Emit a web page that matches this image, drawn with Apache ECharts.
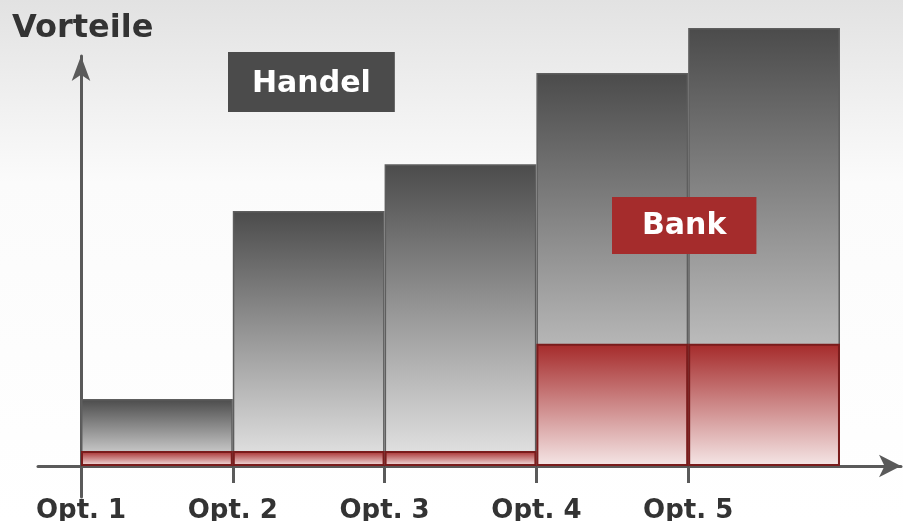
<!DOCTYPE html>
<html>
<head>
<meta charset="utf-8">
<script src="https://cdn.jsdelivr.net/npm/echarts@6/dist/echarts.min.js"></script>
<style>
html,body{margin:0;padding:0;background:#fff;}
#chart{width:903px;height:521px;}
</style>
</head>
<body>
<div id="chart"></div>
<script>
// ---- data ----
var categories = ['Opt. 1', 'Opt. 2', 'Opt. 3', 'Opt. 4', 'Opt. 5'];
var positions = [0.5, 1.5, 2.5, 3.5, 4.5];       // bar centres on the x scale
var tickValues = [0, 1, 2, 3, 4];                 // label/tick positions (bar left edges)
var handelValues = [15.3, 58.2, 68.9, 89.7, 100];
var bankValues = [3.4, 3.4, 3.4, 27.9, 27.9];
var yAxisTitle = 'Vorteile';
var seriesNames = ['Handel', 'Bank'];

function pairs(vals) {
  return vals.map(function (v, i) { return [positions[i], v]; });
}

var font = '"DejaVu Sans", Verdana, sans-serif';
var axisColor = '#5a5a5a';

var chart = echarts.init(document.getElementById('chart'), null, {renderer: 'canvas'});
var option = {
  animation: false,
  backgroundColor: {
    type: 'linear', x: 0, y: 0, x2: 0, y2: 1,
    colorStops: [
      {offset: 0, color: '#e2e2e2'},
      {offset: 0.35, color: '#fbfbfb'},
      {offset: 1, color: '#ffffff'}
    ]
  },
  title: [
    {
      text: yAxisTitle, left: 12, top: 11, padding: 0,
      textStyle: {fontFamily: font, fontSize: 32, fontWeight: 'bold', color: '#333333', lineHeight: 36}
    },
    {
      text: seriesNames[0], left: 228, top: 52, padding: [16, 24, 12, 24],
      backgroundColor: '#4b4b4b',
      textStyle: {fontFamily: font, fontSize: 30, fontWeight: 'bold', color: '#ffffff', lineHeight: 32}
    },
    {
      text: seriesNames[1], left: 612, top: 197, padding: [14, 30, 12, 30],
      backgroundColor: '#a52c2c',
      textStyle: {fontFamily: font, fontSize: 30, fontWeight: 'bold', color: '#ffffff', lineHeight: 31}
    }
  ],
  grid: {left: 38, right: 2, top: 56, bottom: 24, containLabel: false},
  xAxis: {
    type: 'value',
    min: -0.2833,
    max: 5.402,
    splitLine: {show: false},
    axisLine: {
      show: true, onZero: true,
      symbol: ['none', 'arrow'], symbolSize: [17, 22],
      lineStyle: {color: axisColor, width: 3}
    },
    axisTick: {
      show: true, customValues: tickValues, length: 17, inside: false,
      lineStyle: {color: axisColor, width: 3}
    },
    axisLabel: {show: false}
  },
  yAxis: {
    type: 'value',
    min: -7.08,
    max: 93.6,
    splitLine: {show: false},
    axisTick: {show: false},
    axisLabel: {show: false},
    axisLine: {
      show: true, onZero: true,
      symbol: ['none', 'arrow'], symbolSize: [14, 25],
      lineStyle: {color: axisColor, width: 3}
    }
  },
  series: [
    {
      name: seriesNames[0],
      type: 'bar',
      clip: false,
      barWidth: '100%',
      barGap: '-100%',
      data: pairs(handelValues),
      itemStyle: {
        color: {
          type: 'linear', x: 0, y: 0, x2: 0, y2: 1,
          colorStops: [
            {offset: 0, color: '#4b4b4b'},
            {offset: 1, color: '#e6e6e6'}
          ]
        },
        borderColor: '#5e5e5e',
        borderWidth: 1.5
      }
    },
    {
      name: seriesNames[1],
      type: 'bar',
      clip: false,
      barWidth: '100%',
      barGap: '-100%',
      data: pairs(bankValues),
      itemStyle: {
        color: {
          type: 'linear', x: 0, y: 0, x2: 0, y2: 1,
          colorStops: [
            {offset: 0, color: '#a52a2a'},
            {offset: 1, color: '#f5e6e6'}
          ]
        },
        borderColor: '#7a1c1c',
        borderWidth: 2
      }
    },
    {
      name: 'categoryLabels',
      type: 'scatter',
      silent: true,
      clip: false,
      symbolSize: 1,
      itemStyle: {color: '#333333', opacity: 1},
      data: tickValues.map(function (v) { return [v, 0]; }),
      label: {
        show: true,
        position: 'bottom',
        distance: 32,
        opacity: 1,
        textBorderWidth: 0,
        formatter: function (p) { return categories[p.dataIndex]; },
        fontFamily: font, fontSize: 26, fontWeight: 'bold', color: '#333333', lineHeight: 26
      },
      labelLayout: {hideOverlap: false},
      z: 1
    }
  ]
};
chart.setOption(option);
</script>
</body>
</html>
